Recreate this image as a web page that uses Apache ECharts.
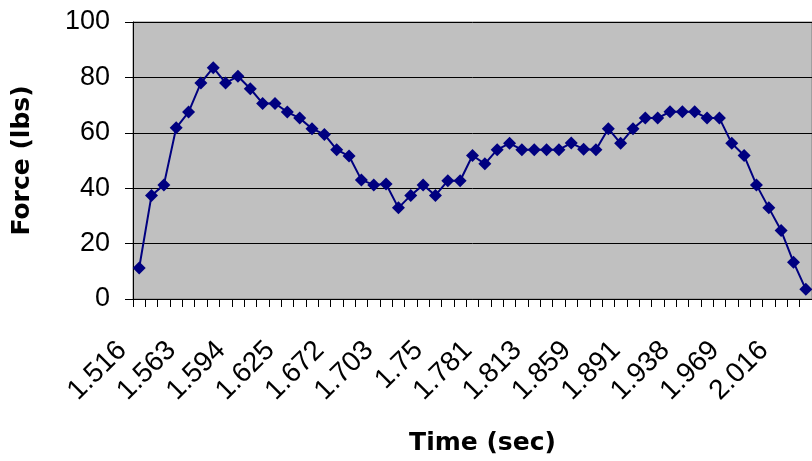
<!DOCTYPE html>
<html>
<head>
<meta charset="utf-8">
<script src="https://cdn.jsdelivr.net/npm/echarts@6/dist/echarts.min.js"></script>
<style>
  html, body { margin: 0; padding: 0; background: #fff; }
  #chart { width: 812px; height: 461px; }
</style>
</head>
<body>
<div id="chart"></div>
<script>
// sample times (sec), only every 4th one is labelled on the axis
const times = [
  '1.516', '1.531', '1.531', '1.547', '1.563', '1.563', '1.578', '1.578',
  '1.594', '1.594', '1.609', '1.609', '1.625', '1.641', '1.641', '1.656',
  '1.672', '1.672', '1.688', '1.688', '1.703', '1.719', '1.719', '1.734',
  '1.75', '1.75', '1.766', '1.766', '1.781', '1.781', '1.797', '1.797',
  '1.813', '1.828', '1.828', '1.844', '1.859', '1.859', '1.875', '1.875',
  '1.891', '1.906', '1.906', '1.922', '1.938', '1.938', '1.953', '1.953',
  '1.969', '1.984', '1.984', '2', '2.016', '2.016', '2.031'
]

// force readings (lbs)
const force = [
  11.2, 37.4, 41.2, 61.8, 67.5, 78.0, 83.5, 78.0, 80.4, 75.9,
  70.6, 70.6, 67.5, 65.3, 61.5, 59.4, 53.9, 51.6, 43.0, 41.2,
  41.5, 32.9, 37.4, 41.2, 37.4, 42.7, 42.7, 51.8, 48.8, 53.9,
  56.2, 53.9, 53.9, 53.9, 53.9, 56.3, 54.1, 53.9, 61.5, 56.2,
  61.5, 65.3, 65.3, 67.6, 67.6, 67.6, 65.3, 65.3, 56.2, 51.8,
  41.2, 32.9, 24.7, 13.3, 3.5
]

const yTicks = [0, 20, 40, 60, 80, 100]

const chart = echarts.init(document.getElementById('chart'), null, { renderer: 'canvas' })

const option = {
  animation: false,
  backgroundColor: '#fff',
  grid: {
    left: 133,
    right: -4,
    top: 22,
    bottom: 156,
    show: true,
    backgroundColor: '#c0c0c0',
    borderColor: '#808080',
    borderWidth: 1
  },
  xAxis: {
    type: 'category',
    data: times,
    boundaryGap: true,
    name: 'Time (sec)',
    nameLocation: 'middle',
    nameGap: 132,
    nameTextStyle: {
      fontFamily: 'DejaVu Sans',
      fontWeight: 'bold',
      fontSize: 25,
      color: '#000',
      padding: [0, 0, 0, 20]
    },
    axisLine: { lineStyle: { color: '#000', width: 1 } },
    axisTick: { show: true, interval: 0, length: 8, lineStyle: { color: '#000' } },
    axisLabel: {
      interval: 3,
      rotate: 45,
      margin: 30,
      padding: [0, 24, 0, 0],
      fontFamily: 'Liberation Sans',
      fontSize: 28,
      color: '#000'
    },
    splitLine: { show: false }
  },
  yAxis: {
    type: 'value',
    min: yTicks[0],
    max: yTicks[yTicks.length - 1],
    interval: 20,
    name: 'Force (lbs)',
    nameLocation: 'middle',
    nameGap: 98,
    nameTextStyle: {
      fontFamily: 'DejaVu Sans',
      fontWeight: 'bold',
      fontSize: 25,
      color: '#000'
    },
    axisLine: { show: true, lineStyle: { color: '#000', width: 1 } },
    axisTick: { show: true, length: 8, lineStyle: { color: '#000' } },
    axisLabel: {
      margin: 23,
      fontFamily: 'Liberation Sans',
      fontSize: 27,
      color: '#000'
    },
    splitLine: { show: true, lineStyle: { color: '#000', width: 1 } }
  },
  series: [
    {
      type: 'line',
      data: force,
      symbol: 'diamond',
      symbolSize: 13,
      showAllSymbol: true,
      lineStyle: { color: '#000080', width: 2 },
      itemStyle: { color: '#000080' },
      clip: false
    }
  ]
}

chart.setOption(option)
</script>
</body>
</html>
